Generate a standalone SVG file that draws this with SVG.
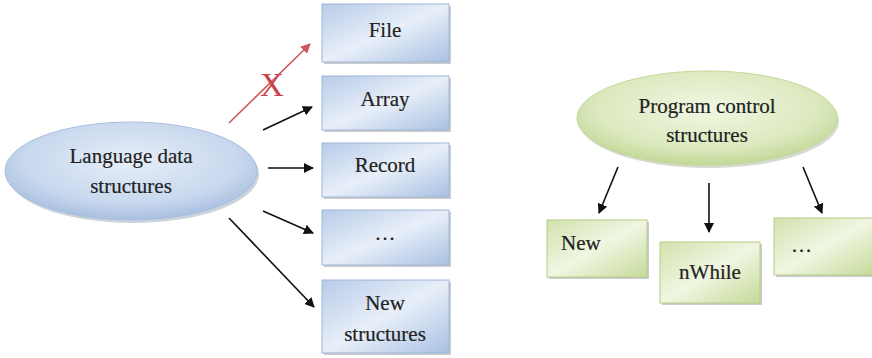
<svg xmlns="http://www.w3.org/2000/svg" width="872" height="358" viewBox="0 0 872 358">
<defs>
<linearGradient id="gb" x1="0" y1="0" x2="1" y2="1">
<stop offset="0" stop-color="#b7cbe8"/>
<stop offset="0.5" stop-color="#e8eff9"/>
<stop offset="1" stop-color="#a9c0e2"/>
</linearGradient>
<radialGradient id="eb" cx="0.5" cy="0.4" r="0.6">
<stop offset="0" stop-color="#e6eef9"/>
<stop offset="0.7" stop-color="#c9d8ee"/>
<stop offset="1" stop-color="#a8bfe0"/>
</radialGradient>
<linearGradient id="gg" x1="0" y1="0" x2="1" y2="1">
<stop offset="0" stop-color="#d2e2ac"/>
<stop offset="0.5" stop-color="#f0f6e2"/>
<stop offset="1" stop-color="#c6da98"/>
</linearGradient>
<radialGradient id="eg" cx="0.5" cy="0.4" r="0.6">
<stop offset="0" stop-color="#f1f7e3"/>
<stop offset="0.7" stop-color="#dce9bf"/>
<stop offset="1" stop-color="#c3d897"/>
</radialGradient>
<marker id="ah" viewBox="0 0 10 10" refX="9" refY="5" markerWidth="10" markerHeight="10" markerUnits="userSpaceOnUse" orient="auto">
<path d="M0,0 L10,5 L0,10 z" fill="#111"/>
</marker>
<marker id="ahr" viewBox="0 0 10 10" refX="9" refY="5" markerWidth="10" markerHeight="10" markerUnits="userSpaceOnUse" orient="auto">
<path d="M0,0 L10,5 L0,10 z" fill="#d0575a"/>
</marker>
</defs>
<style>
.t{font-family:'Liberation Serif','Times New Roman','DejaVu Serif',serif;font-size:21px;fill:#222;stroke:#222;stroke-width:0.2;}
.bb{fill:url(#gb);stroke:#9fb5d6;stroke-width:1;}
.gb{fill:url(#gg);stroke:#b5cc85;stroke-width:1;}
.sh{fill:#9a9a9a;opacity:0.5;}
.c{stroke:#111;stroke-width:1.6;fill:none;marker-end:url(#ah);}
</style>
<rect width="872" height="358" fill="#fff"/>
<g id="lang">
<ellipse cx="133" cy="174" rx="126" ry="49" fill="#9aa8bb" opacity="0.5"/>
<ellipse cx="131" cy="171" rx="126" ry="49" fill="url(#eb)" stroke="#a8bfe0"/>
<text class="t" x="131" y="163" text-anchor="middle">Language data</text>
<text class="t" x="131" y="193" text-anchor="middle">structures</text>
</g>
<g id="file">
<rect class="sh" x="324" y="6" width="127" height="58"/>
<rect class="bb" x="322" y="4" width="127" height="58"/>
<text class="t" x="385" y="37" text-anchor="middle">File</text>
</g>
<g id="array">
<rect class="sh" x="324" y="78" width="127" height="54"/>
<rect class="bb" x="322" y="76" width="127" height="54"/>
<text class="t" x="385" y="106" text-anchor="middle">Array</text>
</g>
<g id="record">
<rect class="sh" x="324" y="145" width="127" height="54"/>
<rect class="bb" x="322" y="143" width="127" height="54"/>
<text class="t" x="385" y="172" text-anchor="middle">Record</text>
</g>
<g id="etc1">
<rect class="sh" x="324" y="212" width="127" height="55"/>
<rect class="bb" x="322" y="210" width="127" height="55"/>
<text class="t" x="385" y="240" text-anchor="middle">…</text>
</g>
<g id="newstruct">
<rect class="sh" x="324" y="282" width="127" height="73"/>
<rect class="bb" x="322" y="280" width="127" height="73"/>
<text class="t" x="385" y="310" text-anchor="middle">New</text>
<text class="t" x="385" y="341" text-anchor="middle">structures</text>
</g>
<g id="prog">
<ellipse cx="709" cy="121" rx="130" ry="47" fill="#a9b59a" opacity="0.5"/>
<ellipse cx="707" cy="118" rx="130" ry="47" fill="url(#eg)" stroke="#c3d897"/>
<text class="t" x="707" y="113" text-anchor="middle">Program control</text>
<text class="t" x="707" y="142" text-anchor="middle">structures</text>
</g>
<g id="new">
<rect class="sh" x="549" y="222" width="100" height="57"/>
<rect class="gb" x="547" y="220" width="100" height="57"/>
<text class="t" x="561" y="250">New</text>
</g>
<g id="nwhile">
<rect class="sh" x="662" y="244" width="100" height="61"/>
<rect class="gb" x="660" y="242" width="100" height="61"/>
<text class="t" x="710" y="279" text-anchor="middle">nWhile</text>
</g>
<g id="etc2">
<rect class="sh" x="776" y="220" width="100" height="57"/>
<rect class="gb" x="774" y="218" width="100" height="57"/>
<text class="t" x="791" y="252">…</text>
</g>
<g id="connectors">
<line x1="229" y1="123" x2="310" y2="44" stroke="#d0575a" stroke-width="1.6" marker-end="url(#ahr)"/>
<text x="272" y="96" text-anchor="middle" style="font-family:'Liberation Serif','DejaVu Serif',serif;font-size:33px;fill:#c8434a;">X</text>
<line class="c" x1="263" y1="130" x2="312" y2="107"/>
<line class="c" x1="268" y1="168" x2="313" y2="168"/>
<line class="c" x1="263" y1="211" x2="313" y2="233"/>
<line class="c" x1="229" y1="218" x2="314" y2="307"/>
<line class="c" x1="618" y1="167" x2="599" y2="213"/>
<line class="c" x1="709" y1="183" x2="709" y2="232"/>
<line class="c" x1="803" y1="167" x2="822" y2="213"/>
</g>
</svg>
